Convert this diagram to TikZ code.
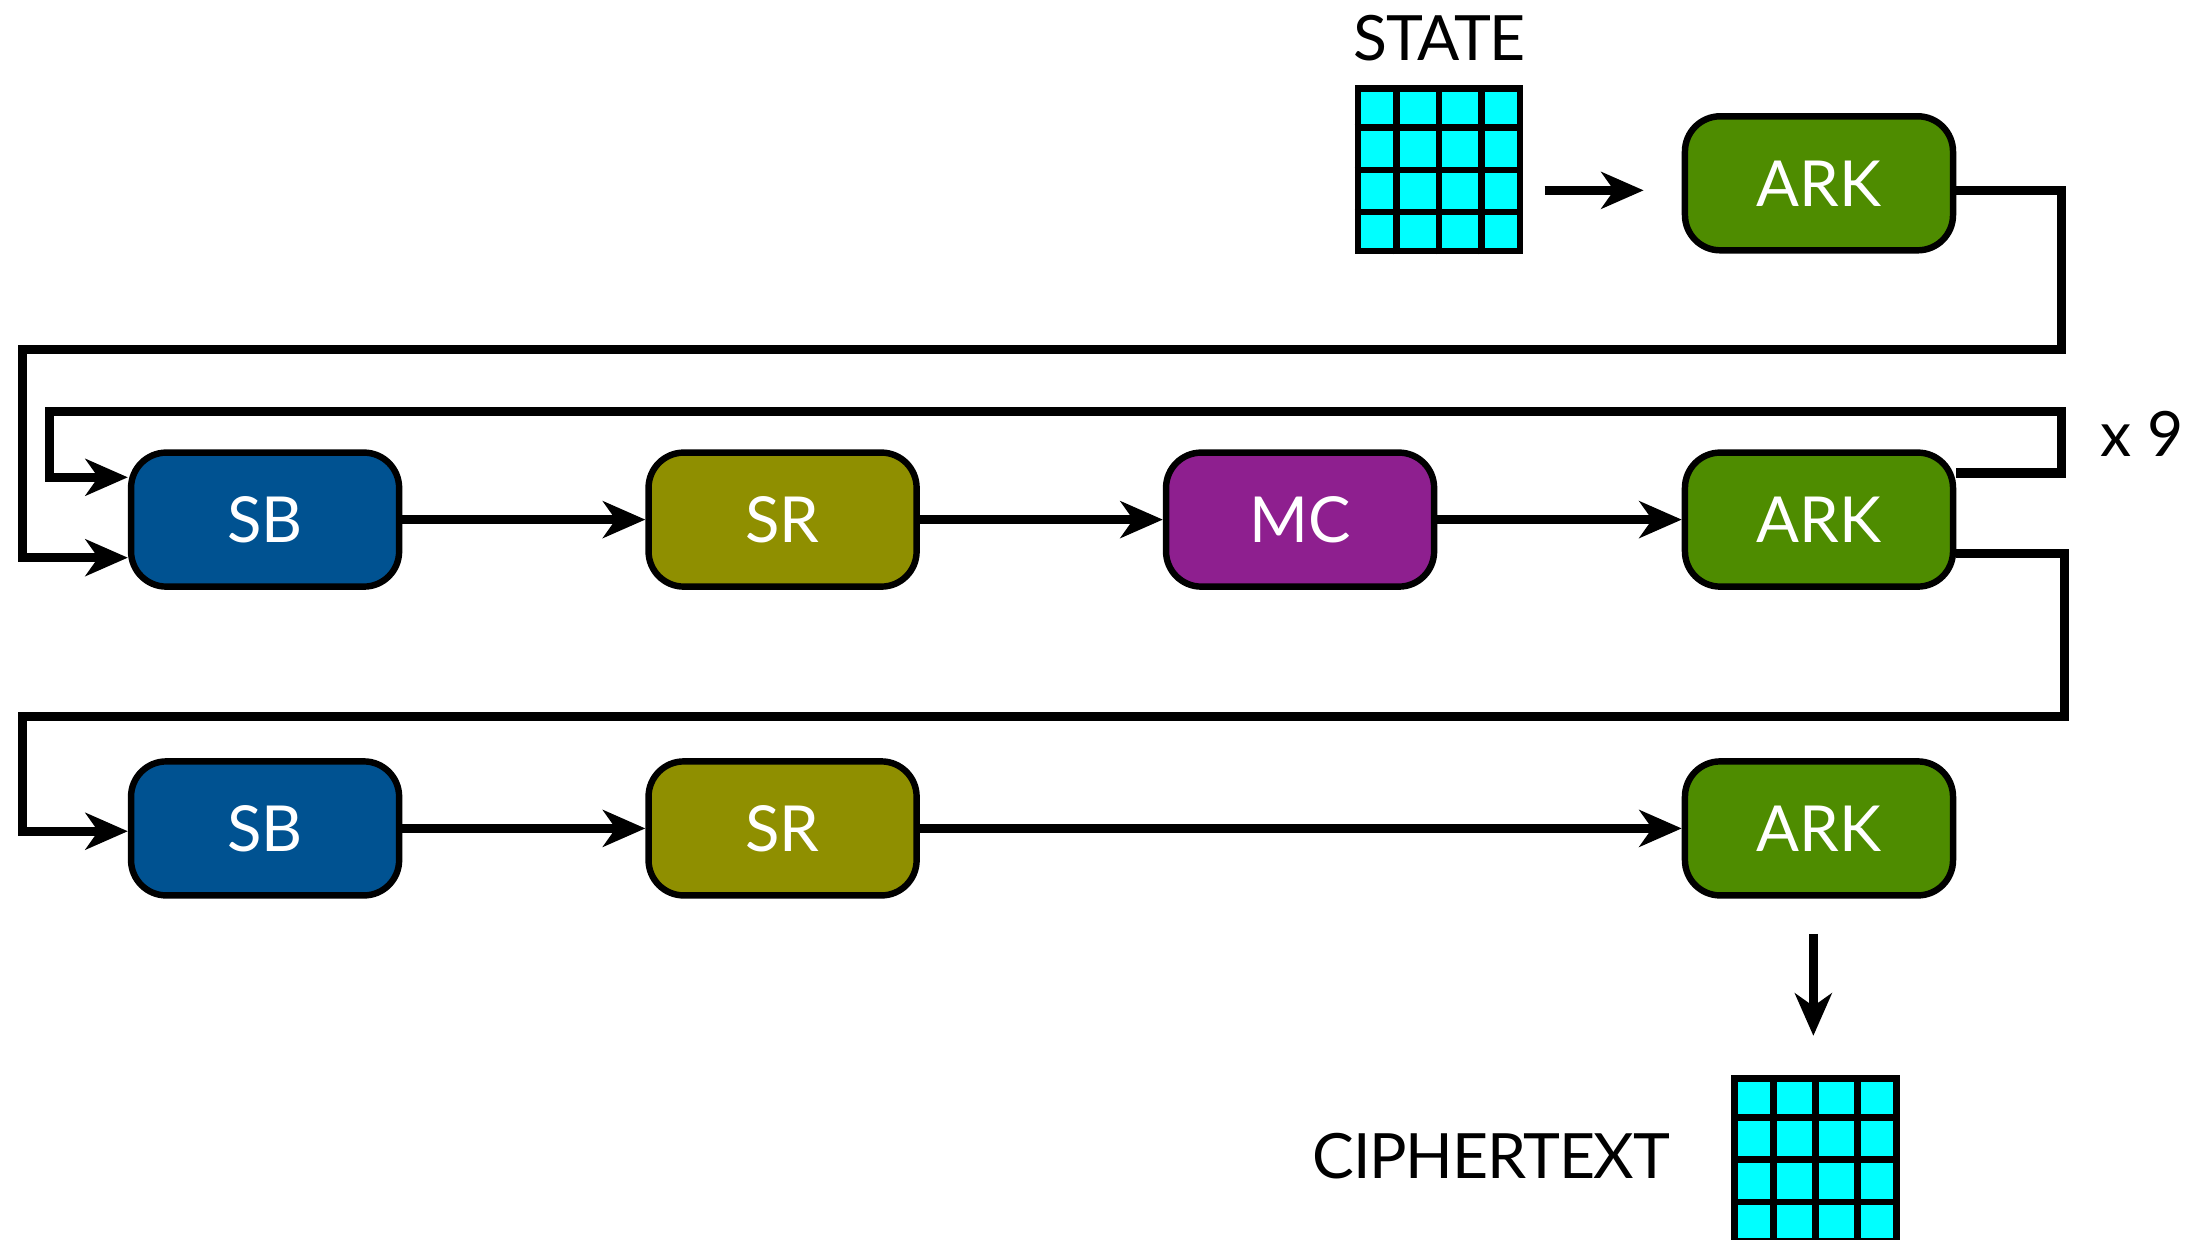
\documentclass[tikz,border=0pt]{standalone}
\usepackage{fontspec}
\setmainfont{Lato}
\usetikzlibrary{arrows.meta,calc}
\definecolor{sbblue}{RGB}{0,82,145}
\definecolor{srolive}{RGB}{143,143,0}
\definecolor{mcpurple}{RGB}{142,31,143}
\definecolor{arkgreen}{RGB}{78,140,0}
\definecolor{statecyan}{RGB}{0,255,255}
\tikzset{
  opbox/.style={draw=black, line width=1.3pt, rounded corners=0.25cm, minimum width=1.9cm, minimum height=0.95cm, inner sep=0pt, text=white, font=\fontsize{12.8}{13}\selectfont},
  sbbox/.style={opbox, fill=sbblue},
  srbox/.style={opbox, fill=srolive},
  mcbox/.style={opbox, fill=mcpurple},
  arkbox/.style={opbox, fill=arkgreen},
  grid4/.style={draw=black, line width=1.35pt, fill=statecyan, minimum width=1.15cm, minimum height=1.15cm, inner sep=0pt},
  wire/.style={line width=1.85pt, line join=miter},
  arr/.style={wire, -{Stealth[length=0.3cm, width=0.26cm, inset=0.09cm]}},
  lbl/.style={font=\fontsize{12.6}{13}\selectfont, text=black, inner sep=0pt},
}
\newcommand{\gridlines}[1]{%
  \foreach \i in {1,2,3} {
    \draw[line width=1.35pt] ($(#1.south west)!\i/4!(#1.south east)$) -- ($(#1.north west)!\i/4!(#1.north east)$);
    \draw[line width=1.35pt] ($(#1.south west)!\i/4!(#1.north west)$) -- ($(#1.south east)!\i/4!(#1.north east)$);
  }}
\begin{document}
\begin{tikzpicture}[x=0.01cm, y=-0.01cm]
\useasboundingbox (0,0) rectangle (1568,879);
% state
\node[grid4] (state) at (1020.5,120.5) {};
\gridlines{state}
\node[lbl, anchor=base] (statelbl) at (1021,43) {\addfontfeature{LetterSpace=-2}STATE};
% boxes
\node[arkbox] (ark0) at (1290,130) {ARK};
\node[sbbox] (sb1) at (188,368.5) {SB};
\node[srbox] (sr1) at (555,368.5) {SR};
\node[mcbox] (mc1) at (922,368.5) {MC};
\node[arkbox] (ark1) at (1290,368.5) {ARK};
\node[sbbox] (sb2) at (188,587.5) {SB};
\node[srbox] (sr2) at (555,587.5) {SR};
\node[arkbox] (ark2) at (1290,587.5) {ARK};
% ciphertext
\node[grid4] (cipher) at (1287.5,822.5) {};
\gridlines{cipher}
\node[lbl, anchor=base east] (cipherlbl) at (1185,836) {\addfontfeature{LetterSpace=-2}CIPHERTEXT};
\node[lbl, anchor=center] (times) at (1519,308) {x 9};
% lanes
\coordinate (r0) at (1462,248);
\coordinate (l0) at (16,248);
\coordinate (r1) at (1462,292);
\coordinate (l1) at (35,292);
\coordinate (r2) at (1464,508);
\coordinate (l2) at (16,508);
% connectors
\draw[arr, shorten <=0.15cm, shorten >=0.27cm] ($(state.east)+(0,14.5)$) -- ($(ark0.west)+(0,5)$);
\draw[arr] ($(ark0.east)+(0,5)$) -| (r0) -- (l0) |- ($(sb1.west)+(0,27)$);
\draw[arr] ($(ark1.east)+(0,-33)$) -| (r1) -- (l1) |- ($(sb1.west)+(0,-30)$);
\draw[arr] ($(ark1.east)+(0,24)$) -| (r2) -- (l2) |- ($(sb2.west)+(0,2)$);
\draw[arr] (sb1) -- (sr1);
\draw[arr] (sr1) -- (mc1);
\draw[arr] (mc1) -- (ark1);
\draw[arr] (sb2) -- (sr2);
\draw[arr] (sr2) -- (ark2);
\draw[arr, shorten <=0.25cm, shorten >=0.28cm] ($(ark2.south)+(-4,0)$) -- ($(cipher.north)+(-1.5,0)$);
\end{tikzpicture}
\end{document}
